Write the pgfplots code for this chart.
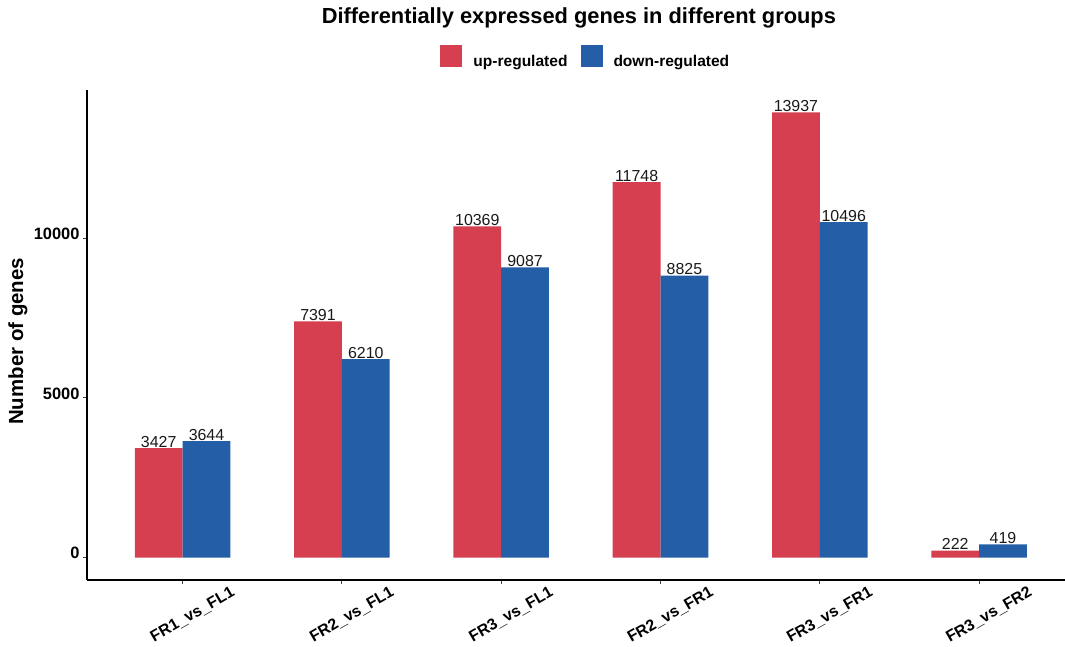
\documentclass[border=0pt]{standalone}
\usepackage{fontspec}
\setmainfont{Liberation Sans}
\usepackage{pgfplots}
\pgfplotsset{compat=1.18}
\definecolor{upred}{RGB}{213,63,79}
\definecolor{downblue}{RGB}{35,94,167}

\begin{document}
\begin{tikzpicture}[x=1bp,y=1bp]
\path[use as bounding box] (0,0) rectangle (1065,647);
\begin{axis}[
  at={(87bp,67bp)}, anchor=south west,
  scale only axis, width=987.7bp, height=490bp,
  xmin=0.4, xmax=6.6, ymin=-697, ymax=14634,
  axis lines=left,
  axis line style={-, line width=1.2bp, black},
  ybar, bar width=0.3,
  xtick={1,2,3,4,5,6},
  xticklabels={FR1\_vs\_FL1,FR2\_vs\_FL1,FR3\_vs\_FL1,FR2\_vs\_FR1,FR3\_vs\_FR1,FR3\_vs\_FR2},
  ytick={0,5000,10000},
  scaled y ticks=false,
  /pgf/number format/assume math mode=true,
  /pgf/number format/1000 sep={},
  tick align=outside, major tick length=4bp,
  tick style={line width=1bp, color=black!75},
  xticklabel style={font=\bfseries\fontsize{16}{16}\selectfont, anchor=center, xshift=10bp, yshift=-31bp, rotate=30},
  yticklabel style={font=\bfseries\fontsize{16.5}{16.5}\selectfont, yshift=4.5bp},
  ylabel={Number of genes},
  ylabel style={at={(axis description cs:-0.0699,0.487)}, anchor=center, font=\bfseries\fontsize{20.5}{20.5}\selectfont},
  title={Differentially expressed genes in different groups},
  title style={at={(axis description cs:0.498,1.135)}, anchor=center, font=\bfseries\fontsize{21.9}{22}\selectfont},
  legend style={at={(axis description cs:0.505,1.057)}, anchor=center, draw=none, fill=none,
    legend columns=2, font=\bfseries\fontsize{15.6}{15.6}\selectfont,
    /tikz/every even column/.append style={column sep=11bp}},
  nodes near coords,
  every node near coord/.append style={font=\fontsize{16}{16}\selectfont, anchor=south, inner sep=0.5bp, color=black!90},
]
\addplot[fill=upred, draw=none, bar shift=-0.15,
  legend image code/.code={\fill[upred] (0bp,-5bp) rectangle (22bp,17bp); \path (31bp,-17bp);}]
  coordinates {(1,3427) (2,7391) (3,10369) (4,11748) (5,13937) (6,222)};
\addplot[fill=downblue, draw=none, bar shift=0.15,
  legend image code/.code={\fill[downblue] (0bp,-5bp) rectangle (22bp,17bp); \path (31bp,-17bp);}]
  coordinates {(1,3644) (2,6210) (3,9087) (4,8825) (5,10496) (6,419)};
\legend{up-regulated, down-regulated}
\end{axis}
\end{tikzpicture}
\end{document}
